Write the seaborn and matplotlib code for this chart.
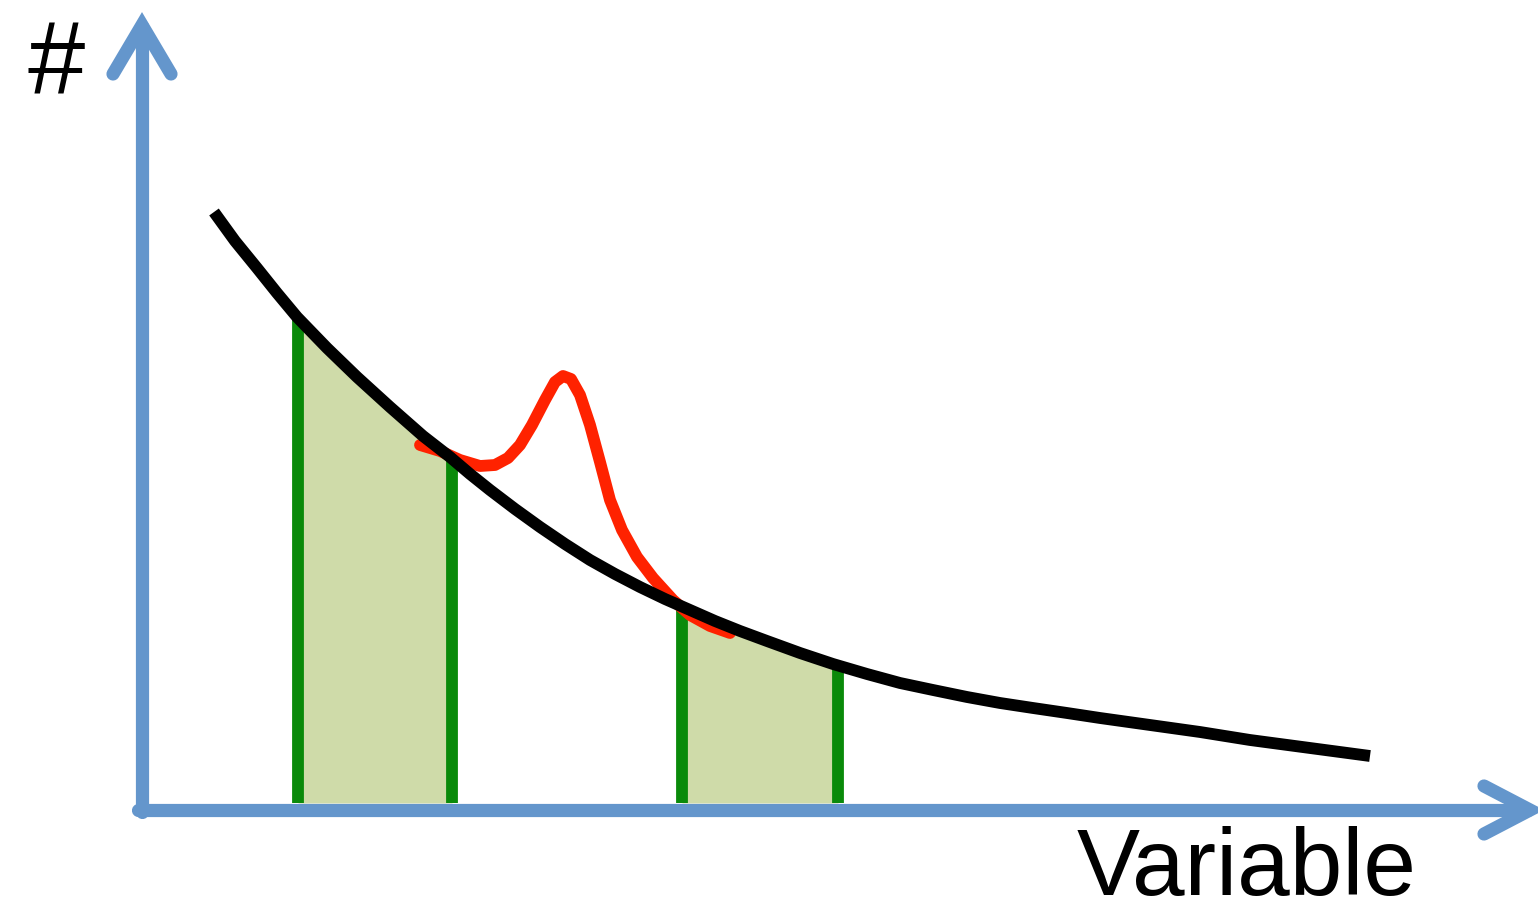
import matplotlib
matplotlib.use("Agg")
import matplotlib.pyplot as plt
import seaborn as sns
import pandas as pd

# --- data (pixel-space schematic) ---
black_x = [214, 235, 257, 277, 297, 327, 357, 390, 423, 450, 470, 490, 515, 540, 565, 590, 615, 640, 665, 690,
           715, 740, 767, 800, 833, 867, 900, 933, 967, 1000, 1033, 1067, 1100, 1150, 1200, 1250, 1310, 1370]
black_y = [212, 241, 268, 293, 317, 348, 377, 407, 436, 457, 474, 490, 509, 527, 544, 560, 574, 587, 599, 610,
           621, 631, 641, 653, 664, 674, 683, 690, 697, 703, 708, 713, 718, 725, 732, 740, 748, 756]

red_x = [420, 440, 460, 480, 495, 508, 520, 532, 545, 555, 563, 571, 580, 590, 600, 610, 622, 637, 653, 673, 690, 710, 730]
red_y = [445, 451, 460, 466, 465, 458, 445, 425, 400, 382, 376, 379, 395, 425, 462, 500, 530, 557, 578, 600, 615, 626, 633]

band1_x = [298, 327, 357, 390, 423, 452]
band1_top = [318, 348, 377, 407, 436, 458]
band2_x = [682, 715, 740, 767, 800, 838]
band2_top = [607, 621, 631, 641, 653, 666]
band_bottom = 803

yaxis_x = [142, 142]
yaxis_y = [812, 26]
yhead_x = [113, 142, 171]
yhead_y = [74, 25, 74]
xaxis_x = [138, 1528]
xaxis_y = [810, 810]
xhead_x = [1484, 1530, 1484]
xhead_y = [786, 810, 834]

sns.set_theme(style="white")
plt.rcParams['font.family'] = ['Liberation Sans', 'DejaVu Sans']

fig = plt.figure(figsize=(15.38, 9.15), dpi=100)
ax = fig.add_axes([0, 0, 1, 1])

blue = "#6496cc"
green_edge = "#0a8a0a"
green_fill = "#cfdba9"

# shaded bands
for bx, bt in [(band1_x, band1_top), (band2_x, band2_top)]:
    ax.fill_between(bx, bt, [band_bottom] * len(bx), color=green_fill, lw=0, zorder=1)
    ax.plot([bx[0], bx[0]], [band_bottom, bt[0]], color=green_edge, lw=8.5, solid_capstyle='butt', zorder=2)
    ax.plot([bx[-1], bx[-1]], [band_bottom, bt[-1]], color=green_edge, lw=8.5, solid_capstyle='butt', zorder=2)

# axes arrows
for xs, ys in [(yaxis_x, yaxis_y), (yhead_x, yhead_y), (xaxis_x, xaxis_y), (xhead_x, xhead_y)]:
    ax.plot(xs, ys, color=blue, lw=9.5, solid_capstyle='round', solid_joinstyle='miter', zorder=3)

df_red = pd.DataFrame({"x": red_x, "y": red_y})
df_black = pd.DataFrame({"x": black_x, "y": black_y})
sns.lineplot(data=df_red, x="x", y="y", ax=ax, color="#ff2200", lw=8.5, sort=False,
             estimator=None, zorder=4, solid_joinstyle='round', solid_capstyle='round')
sns.lineplot(data=df_black, x="x", y="y", ax=ax, color="black", lw=8.5, sort=False,
             estimator=None, zorder=5, solid_joinstyle='round', solid_capstyle='butt')
ax.set_xlim(0, 1538)
ax.set_ylim(915, 0)
ax.axis('off')

ax.text(56, 95, "#", fontsize=74, ha='center', va='baseline', color='black')
ax.text(1077, 895, "Variable", fontsize=68, ha='left', va='baseline', color='black')

fig.savefig("out.png", dpi=100)
